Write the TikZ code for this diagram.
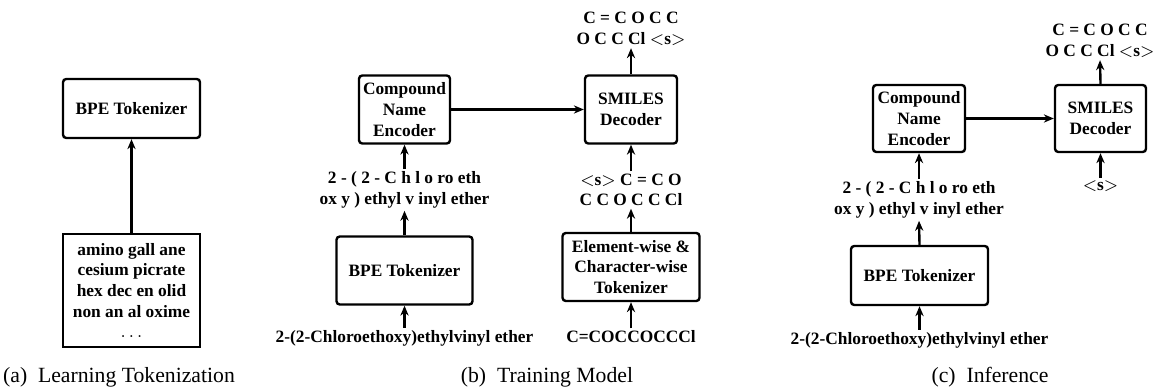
\documentclass[tikz,border=0pt]{standalone}
\usepackage{fontspec}
\setmainfont{Liberation Serif}
\usetikzlibrary{arrows.meta,positioning}
\def\pxu{0.4608pt}

\begin{document}
\begin{tikzpicture}[x=\pxu, y=\pxu,
	every node/.style={font=\footnotesize\bfseries, align=center, inner sep=1pt},
	Block/.style 2 args={draw, line width=1.1pt, rounded corners=1.5pt, minimum width=#1*\pxu, minimum height=#2*\pxu},
	Arr/.style={line width=1.1pt, -{Stealth[length=4.6pt, width=3.8pt]}},
	Cap/.style={font=\normalsize\mdseries}]
	\useasboundingbox (0,0) rectangle (1158,-389);
	
	% (a) learning the tokenizer
	\node[Block={137}{59}] (tokA) at (131.5,-108.5) {BPE Tokenizer};
	\node[draw, line width=0.5pt, minimum width=137*\pxu, minimum height=113*\pxu] (corpus) at (131.5,-290.5)
		{amino gall ane\\cesium picrate\\hex dec en olid\\non an al oxime\\$\ldots$};
	\draw[Arr] (corpus.north) -- (tokA.south);
	\node[Cap] (capA) at (119,-377) {(a)\hskip0.5em Learning Tokenization};
	
	% (b) training
	\node[Block={91}{68}] (encB) at (404.5,-109.5) {Compound\\Name\\Encoder};
	\node[Block={92}{68}] (decB) at (631,-109.5) {SMILES\\Decoder};
	\node (outB) at (631,-29) {C = C O C C\\O C C Cl $<$s$>$};
	\node (subB) at (404.5,-190) {2 - ( 2 - C h l o ro eth\\ox y ) ethyl v inyl ether};
	\node (smiB) at (631,-190) {$<$s$>$ C = C O\\C C O C C Cl};
	\node[Block={136}{68}] (tokB) at (404.5,-270.5) {BPE Tokenizer};
	\node[Block={137}{68}] (elemB) at (631,-267) {Element-wise \&\\Character-wise\\Tokenizer};
	\node (inB) at (404.5,-338) {2-(2-Chloroethoxy)ethylvinyl ether};
	\node (inSB) at (631,-337) {C=COCCOCCCl};
	\draw[Arr] (inB.north) -- (tokB.south);
	\draw[Arr] (tokB.north) -- (subB.south);
	\draw[Arr] (subB.north) -- (encB.south);
	\draw[Arr] (encB.east) -- (decB.west);
	\draw[Arr] (inSB.north) -- (elemB.south);
	\draw[Arr] (elemB.north) -- (smiB.south);
	\draw[Arr] (smiB.north) -- (decB.south);
	\draw[Arr] (decB.north) -- (outB.south);
	\node[Cap] (capB) at (547,-377) {(b)\hskip0.5em Training Model};
	
	% (c) inference
	\node[Block={92}{67}] (encC) at (919,-118.5) {Compound\\Name\\Encoder};
	\node[Block={91}{67}] (decC) at (1100.5,-118.5) {SMILES\\Decoder};
	\node (outC) at (1100,-41) {C = C O C C\\O C C Cl $<$s$>$};
	\node (sC) at (1100.5,-186) {$<$s$>$};
	\node (subC) at (919,-200) {2 - ( 2 - C h l o ro eth\\ox y ) ethyl v inyl ether};
	\node[Block={137}{59}] (tokC) at (919.5,-275.5) {BPE Tokenizer};
	\node (inC) at (919.5,-340) {2-(2-Chloroethoxy)ethylvinyl ether};
	\draw[Arr] (inC.north) -- (tokC.south);
	\draw[Arr] (tokC.north) -- (subC.south);
	\draw[Arr] (subC.north) -- (encC.south);
	\draw[Arr] (encC.east) -- (decC.west);
	\draw[Arr] (sC.north) -- (decC.south);
	\draw[Arr] (decC.north) -- (outC.south);
	\node[Cap] (capC) at (990,-377) {(c)\hskip0.5em Inference};
\end{tikzpicture}
\end{document}
